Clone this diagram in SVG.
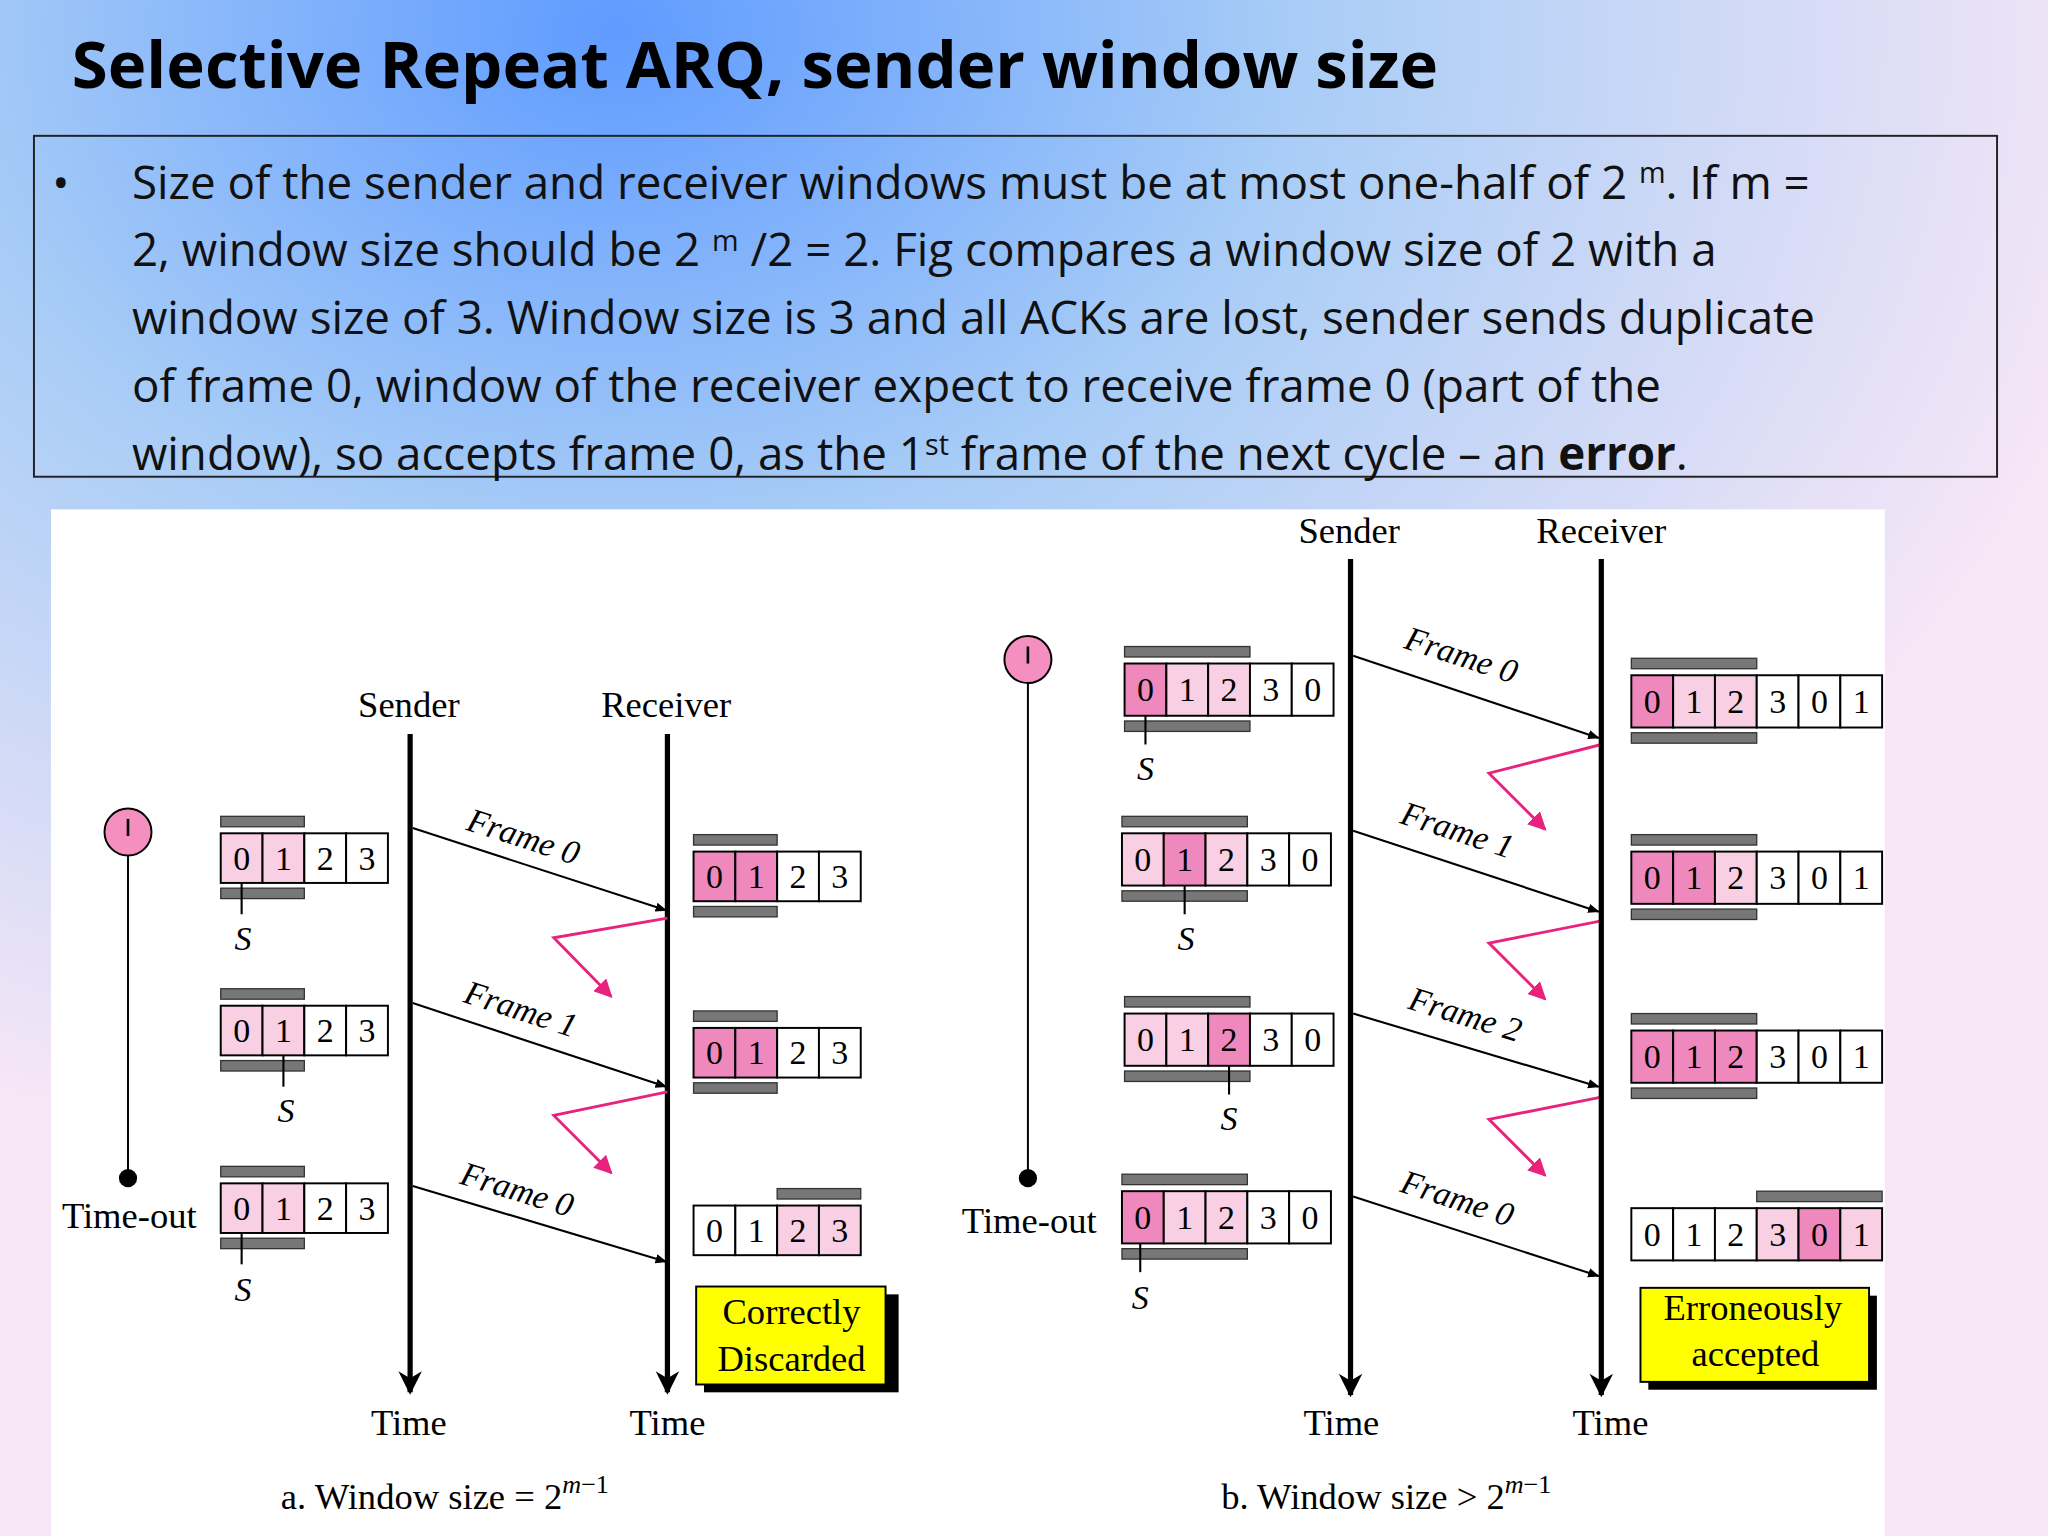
<svg xmlns="http://www.w3.org/2000/svg" width="2048" height="1536" viewBox="0 0 2048 1536">
<defs>
<radialGradient id="bg" cx="0.3" cy="0.02" r="0.75">
<stop offset="0" stop-color="#5f9bff"/><stop offset="0.45" stop-color="#a9cdf6"/><stop offset="1" stop-color="#f6e6f6"/>
</radialGradient>
<marker id="ah" viewBox="0 0 10 10" refX="9" refY="5" markerWidth="9" markerHeight="9" orient="auto" markerUnits="userSpaceOnUse"><path d="M0,1 L10,5 L0,9 Z" fill="#000"/></marker>
<marker id="tl" viewBox="0 0 10 10" refX="9" refY="5" markerWidth="18" markerHeight="28" orient="auto" markerUnits="userSpaceOnUse"><path d="M0,0 L10,5 L0,10 L3,5 Z" fill="#000"/></marker>
<marker id="pk" viewBox="0 0 10 10" refX="9" refY="5" markerWidth="14" markerHeight="14" orient="auto" markerUnits="userSpaceOnUse"><path d="M0,0 L10,5 L0,10 Z" fill="#e8227d"/></marker>
<style>
.s{font-family:"Liberation Serif",serif;font-size:28px;fill:#000}
.fr{font-family:"Liberation Serif",serif;font-size:26px;font-style:italic;fill:#000}
.c{fill:#fff;stroke:#000;stroke-width:1.5}
.l{fill:#f8cfe3;stroke:#000;stroke-width:1.5}
.d{fill:#ef89bd;stroke:#000;stroke-width:1.5}
.bar{fill:#777;stroke:#333;stroke-width:1}
.n{font-family:"Liberation Serif",serif;font-size:26px;text-anchor:middle}
.ln{stroke:#000;stroke-width:1.6;fill:none}
.ack{stroke:#e8227d;stroke-width:2.2;fill:none}
</style>
</defs>
<rect width="2048" height="1536" fill="url(#bg)"/>
<g transform="scale(1.30612)">
<text x="55" y="67" font-family="Open Sans,sans-serif" font-weight="bold" font-size="50">Selective Repeat ARQ, sender window size</text>
<rect x="26" y="104" width="1503" height="261" fill="none" stroke="#222" stroke-width="1.5"/>
<g font-family="Open Sans,sans-serif" font-size="35" fill="#111">
<text x="40" y="152">•</text>
<text x="101" y="152">Size of the sender and receiver windows must be at most one-half of 2 <tspan font-size="22" dy="-12">m</tspan><tspan dy="12">. If m =</tspan></text>
<text x="101" y="204">2, window size should be 2 <tspan font-size="22" dy="-12">m</tspan><tspan dy="12"> /2 = 2. Fig compares a window size of 2 with a</tspan></text>
<text x="101" y="256">window size of 3. Window size is 3 and all ACKs are lost, sender sends duplicate</text>
<text x="101" y="308">of frame 0, window of the receiver expect to receive frame 0 (part of the</text>
<text x="101" y="360">window), so accepts frame 0, as the 1<tspan font-size="22" dy="-12">st</tspan><tspan dy="12"> frame of the next cycle – an </tspan><tspan font-weight="bold">error</tspan>.</text>
</g>
<rect x="39" y="390" width="1404" height="786" fill="#fff"/>

<!-- Part a -->
<g id="a-lines">
<text class="s" x="313" y="549" text-anchor="middle">Sender</text>
<text class="s" x="510" y="549" text-anchor="middle">Receiver</text>
<line x1="314" y1="562" x2="314" y2="1066" stroke="#000" stroke-width="4" marker-end="url(#tl)"/>
<line x1="511" y1="562" x2="511" y2="1066" stroke="#000" stroke-width="4" marker-end="url(#tl)"/>
<text class="s" x="313" y="1099" text-anchor="middle">Time</text>
<text class="s" x="511" y="1099" text-anchor="middle">Time</text>
<circle cx="98" cy="637" r="18" fill="#f48fc0" stroke="#000" stroke-width="1.5"/>
<line x1="98" y1="627" x2="98" y2="640" stroke="#000" stroke-width="2"/>
<line x1="98" y1="655" x2="98" y2="902" stroke="#000" stroke-width="1.5"/>
<circle cx="98" cy="902" r="7" fill="#000"/>
<text class="s" x="99" y="940" text-anchor="middle">Time-out</text>
</g>
<g id="a-s1">
<rect class="l" x="169" y="638" width="32" height="38"/><rect class="l" x="201" y="638" width="32" height="38"/><rect class="c" x="233" y="638" width="32" height="38"/><rect class="c" x="265" y="638" width="32" height="38"/>
<rect class="bar" x="169" y="625" width="64" height="8"/><rect class="bar" x="169" y="680" width="64" height="8"/>
<text class="n" x="185" y="666">0</text><text class="n" x="217" y="666">1</text><text class="n" x="249" y="666">2</text><text class="n" x="281" y="666">3</text>
<line class="ln" x1="185" y1="676" x2="185" y2="700"/><text class="fr" x="186" y="727" text-anchor="middle">S</text>
</g>
<g id="a-s2">
<rect class="l" x="169" y="770" width="32" height="38"/><rect class="l" x="201" y="770" width="32" height="38"/><rect class="c" x="233" y="770" width="32" height="38"/><rect class="c" x="265" y="770" width="32" height="38"/>
<rect class="bar" x="169" y="757" width="64" height="8"/><rect class="bar" x="169" y="812" width="64" height="8"/>
<text class="n" x="185" y="798">0</text><text class="n" x="217" y="798">1</text><text class="n" x="249" y="798">2</text><text class="n" x="281" y="798">3</text>
<line class="ln" x1="217" y1="808" x2="217" y2="832"/><text class="fr" x="219" y="859" text-anchor="middle">S</text>
</g>
<g id="a-s3">
<rect class="l" x="169" y="906" width="32" height="38"/><rect class="l" x="201" y="906" width="32" height="38"/><rect class="c" x="233" y="906" width="32" height="38"/><rect class="c" x="265" y="906" width="32" height="38"/>
<rect class="bar" x="169" y="893" width="64" height="8"/><rect class="bar" x="169" y="948" width="64" height="8"/>
<text class="n" x="185" y="934">0</text><text class="n" x="217" y="934">1</text><text class="n" x="249" y="934">2</text><text class="n" x="281" y="934">3</text>
<line class="ln" x1="185" y1="944" x2="185" y2="968"/><text class="fr" x="186" y="996" text-anchor="middle">S</text>
</g>
<g id="a-r1">
<rect class="d" x="531" y="652" width="32" height="38"/><rect class="d" x="563" y="652" width="32" height="38"/><rect class="c" x="595" y="652" width="32" height="38"/><rect class="c" x="627" y="652" width="32" height="38"/>
<rect class="bar" x="531" y="639" width="64" height="8"/><rect class="bar" x="531" y="694" width="64" height="8"/>
<text class="n" x="547" y="680">0</text><text class="n" x="579" y="680">1</text><text class="n" x="611" y="680">2</text><text class="n" x="643" y="680">3</text>
</g>
<g id="a-r2">
<rect class="d" x="531" y="787" width="32" height="38"/><rect class="d" x="563" y="787" width="32" height="38"/><rect class="c" x="595" y="787" width="32" height="38"/><rect class="c" x="627" y="787" width="32" height="38"/>
<rect class="bar" x="531" y="774" width="64" height="8"/><rect class="bar" x="531" y="829" width="64" height="8"/>
<text class="n" x="547" y="815">0</text><text class="n" x="579" y="815">1</text><text class="n" x="611" y="815">2</text><text class="n" x="643" y="815">3</text>
</g>
<g id="a-r3">
<rect class="c" x="531" y="923" width="32" height="38"/><rect class="c" x="563" y="923" width="32" height="38"/><rect class="l" x="595" y="923" width="32" height="38"/><rect class="l" x="627" y="923" width="32" height="38"/>
<rect class="bar" x="595" y="910" width="64" height="8"/>
<text class="n" x="547" y="951">0</text><text class="n" x="579" y="951">1</text><text class="n" x="611" y="951">2</text><text class="n" x="643" y="951">3</text>
</g>
<g id="a-box">
<rect x="539" y="991" width="149" height="75" fill="#000"/>
<rect x="533" y="985" width="145" height="75" fill="#ffff00" stroke="#000" stroke-width="1.5"/>
<text class="s" x="606" y="1014" text-anchor="middle">Correctly</text>
<text class="s" x="606" y="1050" text-anchor="middle">Discarded</text>
</g>
<text class="s" x="215" y="1155">a. Window size = 2<tspan font-style="italic" font-size="20" dy="-12">m</tspan><tspan font-size="20">−1</tspan></text>

<g id="connectors">
<line class="ln" x1="316" y1="634" x2="510" y2="697" marker-end="url(#ah)"/>
<line class="ln" x1="316" y1="768" x2="510" y2="832" marker-end="url(#ah)"/>
<line class="ln" x1="316" y1="908" x2="510" y2="966" marker-end="url(#ah)"/>
<polyline class="ack" points="511,703 424,718 468,763" marker-end="url(#pk)"/>
<polyline class="ack" points="511,836 424,854 468,898" marker-end="url(#pk)"/>
<line class="ln" x1="1036" y1="502" x2="1224" y2="565" marker-end="url(#ah)"/>
<line class="ln" x1="1036" y1="636" x2="1224" y2="698" marker-end="url(#ah)"/>
<line class="ln" x1="1036" y1="776" x2="1224" y2="832" marker-end="url(#ah)"/>
<line class="ln" x1="1036" y1="916" x2="1224" y2="977" marker-end="url(#ah)"/>
<polyline class="ack" points="1226,570 1140,592 1183,635" marker-end="url(#pk)"/>
<polyline class="ack" points="1226,705 1140,722 1183,765" marker-end="url(#pk)"/>
<polyline class="ack" points="1226,840 1140,857 1183,900" marker-end="url(#pk)"/>
</g>
<g id="frame-labels">
<text class="fr" transform="translate(356,635) rotate(18)">Frame 0</text>
<text class="fr" transform="translate(354,767) rotate(18)">Frame 1</text>
<text class="fr" transform="translate(351,906) rotate(17)">Frame 0</text>
<text class="fr" transform="translate(1074,496) rotate(18)">Frame 0</text>
<text class="fr" transform="translate(1071,630) rotate(18)">Frame 1</text>
<text class="fr" transform="translate(1077,772) rotate(17)">Frame 2</text>
<text class="fr" transform="translate(1071,912) rotate(18)">Frame 0</text>
</g>

<!-- Part b -->
<g id="b-lines">
<text class="s" x="1033" y="416" text-anchor="middle">Sender</text>
<text class="s" x="1226" y="416" text-anchor="middle">Receiver</text>
<line x1="1034" y1="428" x2="1034" y2="1068" stroke="#000" stroke-width="4" marker-end="url(#tl)"/>
<line x1="1226" y1="428" x2="1226" y2="1068" stroke="#000" stroke-width="4" marker-end="url(#tl)"/>
<text class="s" x="1027" y="1099" text-anchor="middle">Time</text>
<text class="s" x="1233" y="1099" text-anchor="middle">Time</text>
<circle cx="787" cy="505" r="18" fill="#f48fc0" stroke="#000" stroke-width="1.5"/>
<line x1="787" y1="495" x2="787" y2="508" stroke="#000" stroke-width="2"/>
<line x1="787" y1="523" x2="787" y2="902" stroke="#000" stroke-width="1.5"/>
<circle cx="787" cy="902" r="7" fill="#000"/>
<text class="s" x="788" y="944" text-anchor="middle">Time-out</text>
</g>
<g id="b-s1">
<rect class="d" x="861" y="508" width="32" height="40"/><rect class="l" x="893" y="508" width="32" height="40"/><rect class="l" x="925" y="508" width="32" height="40"/><rect class="c" x="957" y="508" width="32" height="40"/><rect class="c" x="989" y="508" width="32" height="40"/>
<rect class="bar" x="861" y="495" width="96" height="8"/><rect class="bar" x="861" y="552" width="96" height="8"/>
<text class="n" x="877" y="537">0</text><text class="n" x="909" y="537">1</text><text class="n" x="941" y="537">2</text><text class="n" x="973" y="537">3</text><text class="n" x="1005" y="537">0</text>
<line class="ln" x1="877" y1="548" x2="877" y2="570"/><text class="fr" x="877" y="597" text-anchor="middle">S</text>
</g>
<g id="b-s2">
<rect class="l" x="859" y="638" width="32" height="40"/><rect class="d" x="891" y="638" width="32" height="40"/><rect class="l" x="923" y="638" width="32" height="40"/><rect class="c" x="955" y="638" width="32" height="40"/><rect class="c" x="987" y="638" width="32" height="40"/>
<rect class="bar" x="859" y="625" width="96" height="8"/><rect class="bar" x="859" y="682" width="96" height="8"/>
<text class="n" x="875" y="667">0</text><text class="n" x="907" y="667">1</text><text class="n" x="939" y="667">2</text><text class="n" x="971" y="667">3</text><text class="n" x="1003" y="667">0</text>
<line class="ln" x1="907" y1="678" x2="907" y2="700"/><text class="fr" x="908" y="727" text-anchor="middle">S</text>
</g>
<g id="b-s3">
<rect class="l" x="861" y="776" width="32" height="40"/><rect class="l" x="893" y="776" width="32" height="40"/><rect class="d" x="925" y="776" width="32" height="40"/><rect class="c" x="957" y="776" width="32" height="40"/><rect class="c" x="989" y="776" width="32" height="40"/>
<rect class="bar" x="861" y="763" width="96" height="8"/><rect class="bar" x="861" y="820" width="96" height="8"/>
<text class="n" x="877" y="805">0</text><text class="n" x="909" y="805">1</text><text class="n" x="941" y="805">2</text><text class="n" x="973" y="805">3</text><text class="n" x="1005" y="805">0</text>
<line class="ln" x1="941" y1="816" x2="941" y2="838"/><text class="fr" x="941" y="865" text-anchor="middle">S</text>
</g>
<g id="b-s4">
<rect class="d" x="859" y="912" width="32" height="40"/><rect class="l" x="891" y="912" width="32" height="40"/><rect class="l" x="923" y="912" width="32" height="40"/><rect class="c" x="955" y="912" width="32" height="40"/><rect class="c" x="987" y="912" width="32" height="40"/>
<rect class="bar" x="859" y="899" width="96" height="8"/><rect class="bar" x="859" y="956" width="96" height="8"/>
<text class="n" x="875" y="941">0</text><text class="n" x="907" y="941">1</text><text class="n" x="939" y="941">2</text><text class="n" x="971" y="941">3</text><text class="n" x="1003" y="941">0</text>
<line class="ln" x1="873" y1="952" x2="873" y2="974"/><text class="fr" x="873" y="1002" text-anchor="middle">S</text>
</g>
<g id="b-r1">
<rect class="d" x="1249" y="517" width="32" height="40"/><rect class="l" x="1281" y="517" width="32" height="40"/><rect class="l" x="1313" y="517" width="32" height="40"/><rect class="c" x="1345" y="517" width="32" height="40"/><rect class="c" x="1377" y="517" width="32" height="40"/><rect class="c" x="1409" y="517" width="32" height="40"/>
<rect class="bar" x="1249" y="504" width="96" height="8"/><rect class="bar" x="1249" y="561" width="96" height="8"/>
<text class="n" x="1265" y="546">0</text><text class="n" x="1297" y="546">1</text><text class="n" x="1329" y="546">2</text><text class="n" x="1361" y="546">3</text><text class="n" x="1393" y="546">0</text><text class="n" x="1425" y="546">1</text>
</g>
<g id="b-r2">
<rect class="d" x="1249" y="652" width="32" height="40"/><rect class="d" x="1281" y="652" width="32" height="40"/><rect class="l" x="1313" y="652" width="32" height="40"/><rect class="c" x="1345" y="652" width="32" height="40"/><rect class="c" x="1377" y="652" width="32" height="40"/><rect class="c" x="1409" y="652" width="32" height="40"/>
<rect class="bar" x="1249" y="639" width="96" height="8"/><rect class="bar" x="1249" y="696" width="96" height="8"/>
<text class="n" x="1265" y="681">0</text><text class="n" x="1297" y="681">1</text><text class="n" x="1329" y="681">2</text><text class="n" x="1361" y="681">3</text><text class="n" x="1393" y="681">0</text><text class="n" x="1425" y="681">1</text>
</g>
<g id="b-r3">
<rect class="d" x="1249" y="789" width="32" height="40"/><rect class="d" x="1281" y="789" width="32" height="40"/><rect class="d" x="1313" y="789" width="32" height="40"/><rect class="c" x="1345" y="789" width="32" height="40"/><rect class="c" x="1377" y="789" width="32" height="40"/><rect class="c" x="1409" y="789" width="32" height="40"/>
<rect class="bar" x="1249" y="776" width="96" height="8"/><rect class="bar" x="1249" y="833" width="96" height="8"/>
<text class="n" x="1265" y="818">0</text><text class="n" x="1297" y="818">1</text><text class="n" x="1329" y="818">2</text><text class="n" x="1361" y="818">3</text><text class="n" x="1393" y="818">0</text><text class="n" x="1425" y="818">1</text>
</g>
<g id="b-r4">
<rect class="c" x="1249" y="925" width="32" height="40"/><rect class="c" x="1281" y="925" width="32" height="40"/><rect class="c" x="1313" y="925" width="32" height="40"/><rect class="l" x="1345" y="925" width="32" height="40"/><rect class="d" x="1377" y="925" width="32" height="40"/><rect class="l" x="1409" y="925" width="32" height="40"/>
<rect class="bar" x="1345" y="912" width="96" height="8"/>
<text class="n" x="1265" y="954">0</text><text class="n" x="1297" y="954">1</text><text class="n" x="1329" y="954">2</text><text class="n" x="1361" y="954">3</text><text class="n" x="1393" y="954">0</text><text class="n" x="1425" y="954">1</text>
</g>
<g id="b-box">
<rect x="1262" y="992" width="175" height="72" fill="#000"/>
<rect x="1256" y="986" width="175" height="72" fill="#ffff00" stroke="#000" stroke-width="1.5"/>
<text class="s" x="1342" y="1011" text-anchor="middle">Erroneously</text>
<text class="s" x="1344" y="1046" text-anchor="middle">accepted</text>
</g>
<text class="s" x="935" y="1155">b. Window size &gt; 2<tspan font-style="italic" font-size="20" dy="-12">m</tspan><tspan font-size="20">−1</tspan></text>
</g>
</svg>
